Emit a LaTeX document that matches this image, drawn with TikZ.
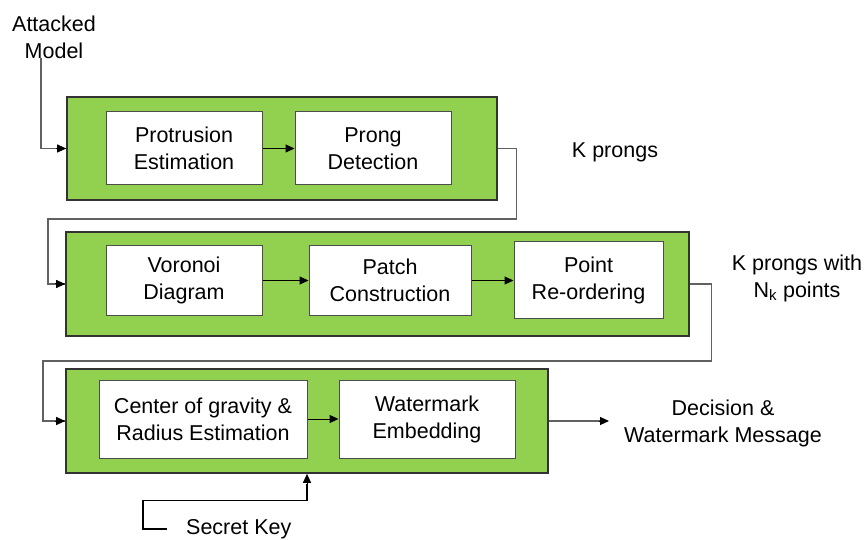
\documentclass[tikz,border=0pt]{standalone}
\usepackage{fontspec}
\setmainfont{Liberation Sans}
\usetikzlibrary{arrows.meta,calc}
\definecolor{boxgreen}{HTML}{92D050}
\begin{document}
\begin{tikzpicture}[x=1pt,y=-1pt,
  font=\fontsize{21.5}{27}\selectfont,
  grp/.style={draw=black!80,line width=1.6pt,fill=boxgreen,inner sep=0pt},
  proc/.style={draw=black!70,line width=1pt,fill=white,align=center,inner sep=0pt},
  lbl/.style={align=center,inner sep=0pt},
  conn/.style={draw=black!62,line width=1.3pt},
  arr/.style={draw=black,line width=1pt,-{Triangle[length=9pt,width=8pt]}}
]
\useasboundingbox (0,0) rectangle (868,540);
% group boxes
\node[grp,minimum width=430pt,minimum height=103pt] (g1) at (282,148.5) {};
\node[grp,minimum width=623pt,minimum height=104pt] (g2) at (377.5,284) {};
\node[grp,minimum width=482pt,minimum height=104pt] (g3) at (307,421) {};
% process boxes
\node[proc,minimum width=156pt,minimum height=73pt] (pe) at (184,148.5) {Protrusion\\Estimation};
\node[proc,minimum width=156pt,minimum height=73pt] (pd) at (373,148.5) {Prong\\Detection};
\node[proc,minimum width=156pt,minimum height=69pt] (vd) at (184,280.5) {Voronoi\\Diagram};
\node[proc,minimum width=162pt,minimum height=69pt] (pc) at (390,280.5) {Patch\\Construction};
\node[proc,minimum width=149pt,minimum height=76pt] (pr) at (588.5,280) {Point\\Re-ordering};
\node[proc,minimum width=208pt,minimum height=78pt] (cg) at (203,419) {Center of gravity \&\\Radius Estimation};
\node[proc,minimum width=176pt,minimum height=78pt] (we) at (427,419) {Watermark\\Embedding};
% labels
\node[lbl] (am) at (54,37) {Attacked\\Model};
\node[lbl] (kp) at (615,152) {K prongs};
\node[lbl] (kn) at (797,278) {K prongs with\\N\textsubscript{k} points};
\node[lbl] (dm) at (723,423) {Decision \&\\Watermark Message};
\node[lbl,anchor=west] (sk) at (186,529) {Secret Key};
\coordinate (amo) at (41,58);
\coordinate (dmi) at (609,421);
\coordinate (sko) at (167,529);
% inner arrows
\draw[arr] (pe.east) -- (pd.west);
\draw[arr] (vd.east) -- (pc.west);
\draw[arr] (pc.east) -- (pr.west |- pc.east);
\draw[arr] (cg.east) -- (we.west);
% connectors
\draw[conn] (amo) |- (g1.west);
\draw[arr] ($(g1.west)+(-10,0)$) -- (g1.west);
\draw[conn] (g1.east) -- ++(19,0) |- (48,219) |- (g2.west);
\draw[arr] ($(g2.west)+(-10,0)$) -- (g2.west);
\draw[conn] (g2.east) -- ++(22,0) |- (43,361) |- (g3.west);
\draw[arr] ($(g3.west)+(-10,0)$) -- (g3.west);
\draw[conn] (g3.east) -- ($(dmi)+(-8,0)$);
\draw[arr] ($(dmi)+(-10,0)$) -- (dmi);
\draw[line width=1.1pt] (sko) -- ++(-24,0) |- ($(g3.south)+(0,27)$) -- ($(g3.south)+(0,10)$);
\draw[arr] ($(g3.south)+(0,12)$) -- (g3.south);
\end{tikzpicture}
\end{document}
